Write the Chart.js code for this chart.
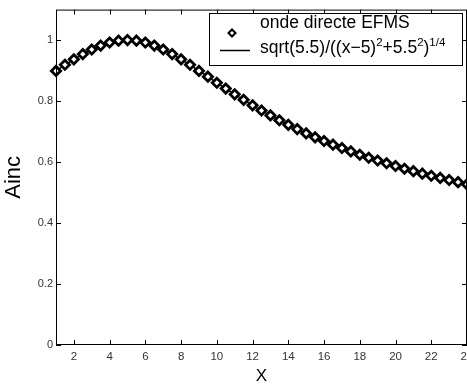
<!DOCTYPE html>
<html>
<head>
<meta charset="utf-8">
<script src="https://cdn.jsdelivr.net/npm/chart.js@4.4.0/dist/chart.umd.min.js"></script>
<style>
  html, body { margin: 0; padding: 0; background: #fff; overflow: hidden; }
  #wrap { width: 490px; height: 385px; }
</style>
</head>
<body>
<div id="wrap"><canvas id="chart"></canvas></div>
<script>
// values (x step 0.5)
const xValues = [1, 1.5, 2, 2.5, 3, 3.5, 4, 4.5, 5, 5.5, 6, 6.5, 7, 7.5, 8, 8.5, 9, 9.5, 10, 10.5,
  11, 11.5, 12, 12.5, 13, 13.5, 14, 14.5, 15, 15.5, 16, 16.5, 17, 17.5, 18, 18.5, 19, 19.5, 20,
  20.5, 21, 21.5, 22, 22.5, 23, 23.5, 24];
const ainc = [0.899, 0.919, 0.937, 0.954, 0.969, 0.982, 0.992, 0.998, 1.000, 0.998, 0.992, 0.982,
  0.969, 0.954, 0.937, 0.919, 0.899, 0.880, 0.860, 0.841, 0.822, 0.804, 0.786, 0.769, 0.753, 0.737,
  0.722, 0.708, 0.694, 0.681, 0.669, 0.657, 0.646, 0.635, 0.624, 0.614, 0.605, 0.596, 0.587, 0.578,
  0.570, 0.562, 0.555, 0.548, 0.541, 0.534, 0.527];
const xTicks = [2, 4, 6, 8, 10, 12, 14, 16, 18, 20, 22, 24];
const yTicks = [0, 0.2, 0.4, 0.6, 0.8, 1];
const markerLabel = 'onde directe EFMS';
// [text, superscript?]
const curveLabel = [['sqrt(5.5)/((x\u22125)', false], ['2', true], ['+5.5', false], ['2', true], [')', false], ['1/4', true]];

const FONT = '"Liberation Sans", Arial, Helvetica, sans-serif';
const points = xValues.map((x, i) => ({ x: x, y: ainc[i] }));

// matlab style box with inward ticks + legend
const frame = {
  id: 'frame',
  afterDatasetsDraw(chart) {
    const { ctx, chartArea: a, scales } = chart;
    ctx.save();
    ctx.strokeStyle = '#000';
    ctx.lineWidth = 1;
    ctx.strokeRect(a.left + 0.5, a.top + 0.5, a.right - a.left - 1, a.bottom - a.top - 1);
    ctx.beginPath();
    xTicks.forEach(v => {
      const px = Math.round(scales.x.getPixelForValue(v)) + 0.5;
      ctx.moveTo(px, a.bottom); ctx.lineTo(px, a.bottom - 5);
      ctx.moveTo(px, a.top); ctx.lineTo(px, a.top + 5);
    });
    yTicks.forEach(v => {
      const py = Math.round(scales.y.getPixelForValue(v)) + 0.5;
      ctx.moveTo(a.left, py); ctx.lineTo(a.left + 5, py);
      ctx.moveTo(a.right, py); ctx.lineTo(a.right - 5, py);
    });
    ctx.stroke();
    ctx.restore();
  },
  afterDraw(chart) {
    const ctx = chart.ctx;
    const bx = 209, by = 13, bw = 253, bh = 52;
    ctx.save();
    ctx.fillStyle = '#fff';
    ctx.fillRect(bx, by, bw, bh);
    ctx.strokeStyle = '#000';
    ctx.lineWidth = 1;
    ctx.strokeRect(bx + 0.5, by + 0.5, bw, bh);

    // row 1: diamond
    ctx.beginPath();
    ctx.moveTo(232, 29.5); ctx.lineTo(235.5, 33); ctx.lineTo(232, 36.5); ctx.lineTo(228.5, 33); ctx.closePath();
    ctx.lineWidth = 2;
    ctx.stroke();
    ctx.fillStyle = '#000';
    ctx.textBaseline = 'alphabetic';
    ctx.font = '17.5px ' + FONT;
    ctx.fillText(markerLabel, 260, 28);

    // row 2: line
    ctx.beginPath();
    ctx.lineWidth = 1.5;
    ctx.moveTo(220, 50.5); ctx.lineTo(250, 50.5);
    ctx.stroke();
    let x = 260;
    curveLabel.forEach(([t, sup]) => {
      ctx.font = (sup ? '11.5px ' : '17.5px ') + FONT;
      ctx.fillText(t, x, sup ? 46 : 53);
      x += ctx.measureText(t).width;
    });
    ctx.restore();
  }
};

new Chart(document.getElementById('chart'), {
  type: 'scatter',
  data: {
    datasets: [
      {
        label: markerLabel,
        data: points,
        showLine: false,
        pointStyle: 'rectRot',
        pointRadius: 4.6,
        pointBorderWidth: 2.8,
        pointBackgroundColor: '#fff',
        pointBorderColor: '#000',
        clip: false
      },
      {
        label: 'curve',
        data: points,
        showLine: true,
        borderColor: '#000',
        borderWidth: 1.5,
        pointRadius: 0,
        tension: 0,
        clip: false
      }
    ]
  },
  options: {
    responsive: true,
    maintainAspectRatio: false,
    animation: false,
    layout: { padding: { top: 6, right: 23, left: 0, bottom: 0 } },
    plugins: { legend: { display: false }, tooltip: { enabled: false } },
    scales: {
      x: {
        type: 'linear', min: 1, max: 24,
        grid: { display: false, drawTicks: false },
        border: { display: false },
        afterBuildTicks: s => { s.ticks = xTicks.map(v => ({ value: v })); },
        afterFit: s => { s.height = 40; },
        ticks: { font: { family: FONT, size: 11.5 }, color: '#333', padding: 5, maxRotation: 0 },
        title: { display: true, text: 'X', color: '#000', font: { family: FONT, size: 17, lineHeight: 1 }, padding: { top: 0, bottom: 0 } }
      },
      y: {
        min: 0, max: 1.1,
        grid: { display: false, drawTicks: false },
        border: { display: false },
        afterBuildTicks: s => { s.ticks = yTicks.map(v => ({ value: v })); },
        afterFit: s => { s.width = 56; },
        ticks: {
          font: { family: FONT, size: 11 }, color: '#333', padding: 3,
          callback: v => (v === 0 || v === 1) ? String(v) : v.toFixed(1)
        },
        title: { display: true, text: 'Ainc', color: '#000', font: { family: FONT, size: 22 }, padding: { top: 1, bottom: 0 } }
      }
    }
  },
  plugins: [frame]
});
</script>
</body>
</html>
